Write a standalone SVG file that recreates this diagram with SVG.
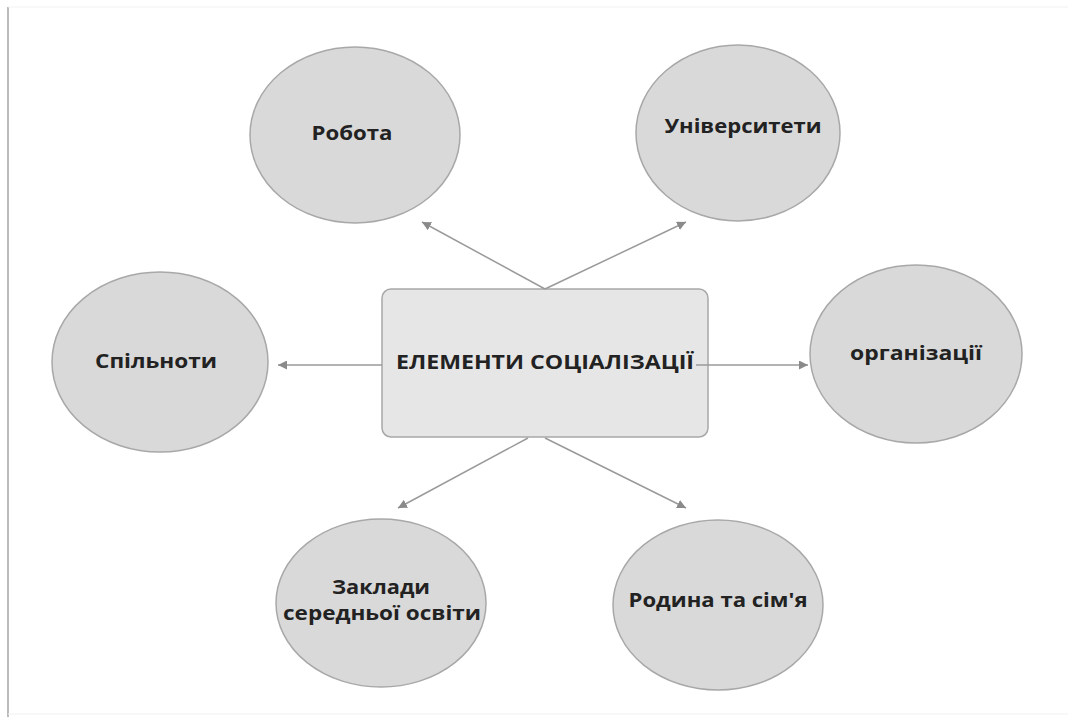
<svg xmlns="http://www.w3.org/2000/svg" width="1068" height="717" viewBox="0 0 1068 717">
<style>
.node ellipse{fill:#d9d9d9;stroke:#a8a8a8;stroke-width:1.5}
.box{fill:#e6e6e6;stroke:#a8a8a8;stroke-width:1.5}
text{font-family:"Open Sans","DejaVu Sans",sans-serif;font-weight:bold;fill:#222;text-anchor:middle;font-size:20px}
.conn line{stroke:#9a9a9a;stroke-width:1.5;marker-end:url(#ah)}
</style>
<defs>
<marker id="ah" viewBox="0 0 10 10" refX="10" refY="5" markerWidth="9" markerHeight="9" markerUnits="userSpaceOnUse" orient="auto">
<path d="M0,0 L10,5 L0,10 z" fill="#8a8a8a"/>
</marker>
</defs>
<rect x="0" y="0" width="1068" height="717" fill="#fff"/>
<line x1="8" y1="7" x2="8" y2="717" stroke="#bbb" stroke-width="2"/>
<line x1="8" y1="7" x2="1068" y2="7" stroke="#f2f2f2" stroke-width="1"/>
<line x1="8" y1="714" x2="1068" y2="714" stroke="#f0f0f0" stroke-width="1"/>
<g id="center">
<rect class="box" x="382" y="289" width="326" height="148" rx="9"/>
<text x="545" y="369" font-size="21" textLength="298" lengthAdjust="spacingAndGlyphs">ЕЛЕМЕНТИ СОЦІАЛІЗАЦІЇ</text>
</g>
<g class="conn" id="connectors">
<line x1="545" y1="289" x2="422" y2="222"/>
<line x1="545" y1="289" x2="686" y2="222"/>
<line x1="382" y1="365" x2="278" y2="365"/>
<line x1="696" y1="365" x2="808" y2="365"/>
<line x1="528" y1="438" x2="398" y2="508"/>
<line x1="545" y1="438" x2="686" y2="508"/>
</g>
<g class="node" id="robota">
<ellipse cx="355" cy="135" rx="105" ry="88"/>
<text x="352" y="140" textLength="81" lengthAdjust="spacingAndGlyphs">Робота</text>
</g>
<g class="node" id="universytety">
<ellipse cx="738" cy="133" rx="102" ry="88"/>
<text x="743" y="133" textLength="157" lengthAdjust="spacingAndGlyphs">Університети</text>
</g>
<g class="node" id="spilnoty">
<ellipse cx="160" cy="362" rx="108" ry="90"/>
<text x="156" y="368" textLength="122" lengthAdjust="spacingAndGlyphs">Спільноти</text>
</g>
<g class="node" id="orhanizatsii">
<ellipse cx="916" cy="354" rx="106" ry="89"/>
<text x="916" y="360" textLength="132" lengthAdjust="spacingAndGlyphs">організації</text>
</g>
<g class="node" id="zaklady">
<ellipse cx="381" cy="603" rx="105" ry="84"/>
<text x="381" y="594" textLength="98" lengthAdjust="spacingAndGlyphs">Заклади</text>
<text x="382" y="620" textLength="198" lengthAdjust="spacingAndGlyphs">середньої освіти</text>
</g>
<g class="node" id="rodyna">
<ellipse cx="718" cy="605" rx="105" ry="85"/>
<text x="718" y="607" textLength="179" lengthAdjust="spacingAndGlyphs">Родина та сім'я</text>
</g>
</svg>
